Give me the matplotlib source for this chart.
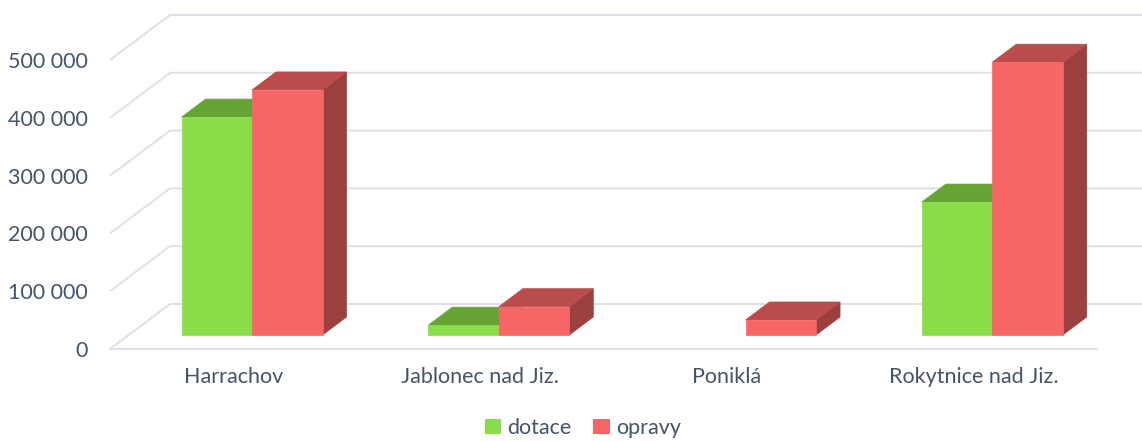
import matplotlib
matplotlib.use("Agg")
import matplotlib.pyplot as plt
from matplotlib.patches import Polygon, Patch

categories = ["Harrachov", "Jablonec nad Jiz.", "Poniklá", "Rokytnice nad Jiz."]
dotace = [377000, 17000, 0, 230000]
opravy = [424000, 49000, 26000, 472000]
series_names = ["dotace", "opravy"]
y_ticks = [0, 100000, 200000, 300000, 400000, 500000]

text_col = "#44546A"
grid_col = "#dde0e6"
# front, top, side
green = ("#89DD48", "#66A535", "#5A9630")
red = ("#F76666", "#BA4C4B", "#9B403F")

plt.rcParams["font.family"] = ["Lato", "DejaVu Sans"]

W, H = 1142, 441
fig = plt.figure(figsize=(W / 100, H / 100), dpi=100)
# axes box = front plane of the floor
ax = fig.add_axes([110 / W, (H - 349) / H, 987 / W, 289 / H])
ax.set_xlim(-0.5, len(categories) - 0.5)
ax.set_ylim(0, 500000)

# oblique depth offset of the whole floor, in data units
DX = 60 / 987 * len(categories)
DY = 45 / 289 * 500000

# gridlines: left wall diagonals + back wall horizontals
x0 = -0.5
x_far = len(categories) - 0.5 + DX
for v in y_ticks:
    ax.plot([x0, x0 + DX, x_far], [v, v + DY, v + DY], color=grid_col,
            lw=1.4, clip_on=False, zorder=1, solid_capstyle="butt")
ax.plot([x0, len(categories) - 0.5], [0, 0], color=grid_col, lw=1.4,
        clip_on=False, zorder=1)

# bars, gap width 150 %
w = 1 / 3.5
z0, z1 = 0.311, 0.711
ddx, ddy = (z1 - z0) * DX, (z1 - z0) * DY


def bar(xl, val, cols):
    if val <= 0:
        return
    xb = xl + z0 * DX
    yb = z0 * DY
    yt = yb + val
    front = [(xb, yb), (xb + w, yb), (xb + w, yt), (xb, yt)]
    top = [(xb, yt), (xb + w, yt), (xb + w + ddx, yt + ddy), (xb + ddx, yt + ddy)]
    side = [(xb + w, yb), (xb + w + ddx, yb + ddy), (xb + w + ddx, yt + ddy), (xb + w, yt)]
    for pts, c in [(side, cols[2]), (top, cols[1]), (front, cols[0])]:
        ax.add_patch(Polygon(pts, closed=True, facecolor=c, edgecolor=c,
                             lw=0.5, clip_on=False, zorder=3))


for i in range(len(categories)):
    bar(i - w, dotace[i], green)
    bar(i, opravy[i], red)

ax.set_xticks(range(len(categories)))
ax.set_xticklabels(categories)
ax.set_yticks(y_ticks)
ax.set_yticklabels([f"{v:,}".replace(",", " ") for v in y_ticks])
ax.tick_params(axis="both", length=0, labelsize=15.5, colors=text_col)
ax.tick_params(axis="x", pad=13)
ax.tick_params(axis="y", pad=16)
for s in ax.spines.values():
    s.set_visible(False)
ax.set_facecolor("none")

handles = [Patch(facecolor=green[0], edgecolor="none"),
           Patch(facecolor=red[0], edgecolor="none")]
leg = fig.legend(handles, series_names, loc="center", ncol=2, frameon=False,
                 bbox_to_anchor=(583 / W, 1 - 428 / H), fontsize=15.5,
                 handlelength=0.75, handleheight=0.75, handletextpad=0.3,
                 columnspacing=1.0)
for t in leg.get_texts():
    t.set_color(text_col)

fig.savefig("out.png", dpi=100)
